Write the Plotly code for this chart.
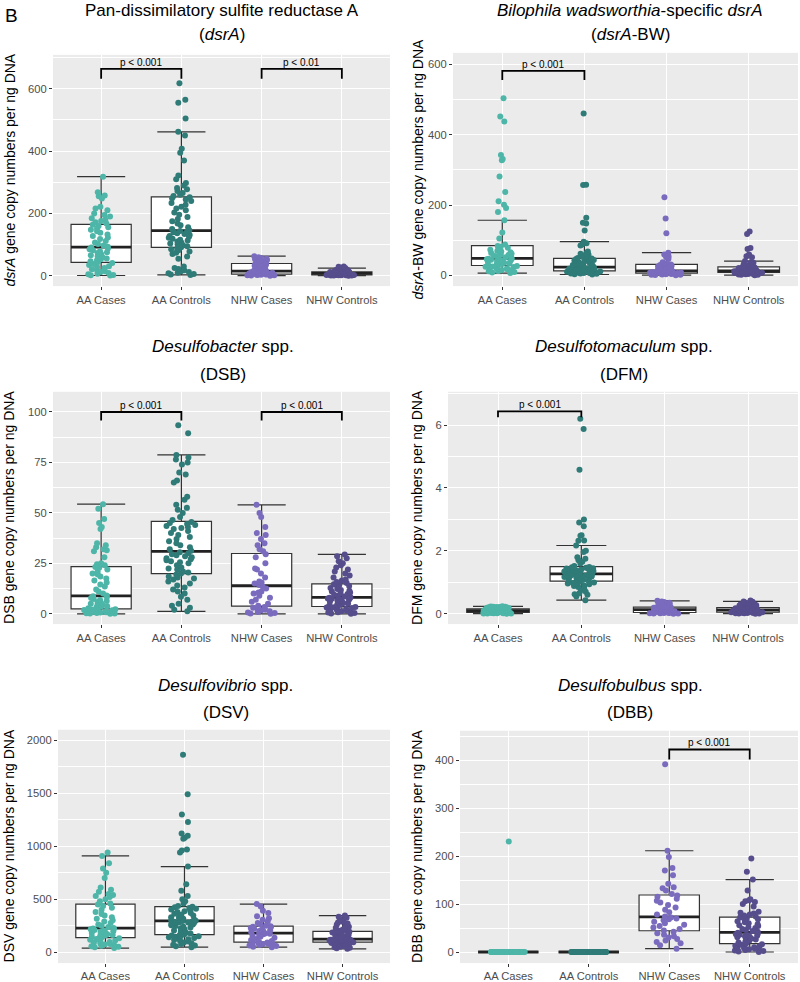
import numpy as np
import plotly.graph_objects as go

W, H = 800, 982
FONT = "Liberation Sans, Arial, sans-serif"

groups = ["AA Cases", "AA Controls", "NHW Cases", "NHW Controls"]
colors = ["#4DB6A8", "#2F7B78", "#7A6BBE", "#564D8C"]

# ---------------- dsrA ----------------
dsrA_aa_cases = [1, 2, 3, 5, 7, 9, 12, 15, 18, 21, 25, 28, 31, 35, 38, 41,
                 44, 47, 50, 53, 56, 60, 63, 66, 70, 73, 76, 79, 82, 85, 88, 91,
                 93, 97, 102, 107, 112, 118, 123, 128, 133, 138, 143, 148, 152, 156, 160, 164,
                 168, 172, 176, 180, 185, 190, 195, 200, 210, 216, 222, 248, 255, 258, 268, 318]
dsrA_aa_controls = [3, 4, 6, 8, 10, 12, 15, 18, 22, 25, 30, 55, 62, 70, 74, 78, 82, 85, 88,
                    92, 95, 98, 101, 104, 107, 110, 113, 116, 119, 122, 125, 128, 131, 134, 137, 140, 142, 144,
                    146, 150, 156, 162, 168, 175, 182, 189, 196, 203, 210, 216, 222, 228, 234, 240, 245, 249, 252,
                    256, 260, 266, 272, 278, 282, 290, 298, 310, 322, 370, 395, 408, 450, 462, 505, 555, 565, 618]
dsrA_nhw_cases = [0.5, 1, 1.5, 2, 2.5, 3, 3.5, 4, 4.3, 4.6, 4.9,
                  5.5, 6.5, 7.5, 8.5, 9.5, 10.5, 11.5, 12.5, 13, 14, 14.5,
                  15.5, 17, 19, 21, 23, 26, 29, 32, 35, 37, 39,
                  41, 43, 45, 47, 49, 51, 53, 55, 57, 60, 63]
dsrA_nhw_controls = [0.5, 0.8, 1, 1.2, 1.5, 1.7, 2, 2.2, 2.4, 2.6, 2.7, 2.8, 2.9, 3, 3, 3,
                     3.3, 3.6, 4, 4.4, 4.8, 5.2, 5.6, 6, 6.3, 6.6, 6.9, 7.2, 7.4, 7.6, 7.8, 7.9,
                     8.1, 8.4, 8.8, 9.2, 9.6, 10, 10.4, 10.8, 11.2, 11.5, 11.8, 12.1, 12.4, 12.6, 12.8, 12.9,
                     13.2, 13.8, 14.5, 15.2, 16, 17, 18, 19, 20, 21, 22, 23, 24, 25, 29, 30]

# ---------------- dsrA-BW ----------------
bw_aa_cases = [7, 9, 10, 12, 13, 15, 16, 18, 19, 20, 21, 23, 24, 25, 26, 27,
               29, 30, 32, 33, 35, 36, 38, 39, 40, 42, 43, 44, 45, 46, 47, 48,
               50, 52, 54, 56, 58, 60, 62, 64, 66, 68, 70, 73, 76, 79, 82, 84,
               88, 105, 122, 157, 180, 192, 201, 211, 237, 281, 327, 331, 342, 437, 451, 503]
bw_aa_controls = [3, 4, 5, 5.5, 6, 6.5, 7, 7.5, 8, 8.5, 9, 9.5, 10, 10.5, 11, 11.5, 12, 12.5, 13,
                  13.5, 14, 14.5, 15, 15.5, 16, 16.5, 17, 17.5, 18, 19, 19.5, 20, 20.5, 21, 22, 22.5, 23, 23.5,
                  24.5, 26, 27, 28, 29, 30, 31, 32, 33, 35, 36, 38, 40, 41, 43, 44, 46, 47, 48.5,
                  50, 52, 55, 58, 60, 62, 65, 68, 85, 88, 92, 96, 128, 148, 150, 164, 257, 258, 460]
bw_nhw_cases = [1, 1.5, 2, 2.5, 3, 3.5, 4, 4.5, 5, 5.5, 6,
                7, 7.5, 8, 8.5, 9, 9.5, 10, 10.5, 11, 12, 12.5,
                13.5, 14.5, 16, 18, 20, 22, 24, 26, 28, 30, 31.5,
                33, 35, 38, 48, 52, 55, 60, 65, 120, 162, 222]
bw_nhw_controls = [1, 2, 2.5, 3, 3.5, 4, 4.5, 5, 5.5, 6, 6.5, 7, 7.3, 7.6, 7.9, 8.2,
                   8.8, 9.1, 9.4, 9.7, 10, 10.3, 10.6, 10.9, 11.2, 11.5, 11.8, 12.1, 12.3, 12.5, 12.7, 12.9,
                   13.1, 13.8, 14.5, 15.2, 16, 16.8, 17.6, 18.4, 19.2, 20, 20.8, 21.6, 22.4, 23.2, 24, 24.6,
                   25.4, 27, 29, 31, 33, 36, 38, 41, 52, 55, 57, 60, 75, 78, 118, 125]

# ---------------- DSB ----------------
dsb_aa_cases = [0, 0.1, 0.2, 0.3, 0.4, 0.5, 0.6, 0.8, 1, 1.1, 1.3, 1.5, 1.7, 1.9, 2.1, 2.2,
                2.5, 2.8, 3.1, 3.5, 3.8, 4.2, 4.6, 5, 5.4, 5.8, 6.3, 6.8, 7.3, 7.8, 8.3, 8.7,
                9.1, 10, 11, 12, 13.5, 14.5, 15.5, 16.5, 17.5, 18.5, 19.5, 20, 21, 22, 22.8, 23.2,
                24, 24.5, 25, 28, 31, 31.5, 32, 33, 34, 35, 42, 43, 45, 47, 52, 54.3]
dsb_aa_controls = [1.2, 2, 3, 4, 5, 7, 8.5, 10, 11, 12, 13, 14, 15, 16, 17, 17.5, 18, 18.5, 19.5,
                   20, 20.5, 21, 22, 22.5, 23, 24, 25, 25.5, 26, 26.5, 27, 27.5, 28, 28.5, 29, 29.5, 30, 30.5,
                   31.3, 32, 33, 34, 35, 36, 37, 38, 39, 40, 41, 42, 42.5, 43, 43.5, 44, 44.5, 45, 45.5,
                   46.5, 48, 50, 51.5, 52.5, 54, 56.5, 58, 65, 66, 69, 70, 74, 75, 76.5, 77.5, 78.7, 89.5, 93.4]
dsb_nhw_cases = [0, 0.2, 0.4, 0.6, 0.9, 1.2, 1.6, 2, 2.5, 3, 3.4,
                 4, 5, 6, 7, 8, 9, 10, 10.5, 11, 12.5, 13.5,
                 14.3, 15, 15.5, 16, 18, 20, 22, 22.5, 25, 28, 29.5,
                 31, 32, 34, 35, 37, 39, 40, 43, 48, 50, 54]
dsb_nhw_controls = [0, 0.2, 0.4, 0.6, 0.8, 1, 1.3, 1.6, 1.9, 2.2, 2.5, 2.7, 2.9, 3.1, 3.3, 3.4,
                    3.7, 4, 4.4, 4.8, 5.1, 5.4, 5.7, 6, 6.3, 6.6, 6.9, 7.2, 7.4, 7.6, 7.8, 8,
                    8.3, 8.6, 9, 9.4, 9.8, 10.2, 10.6, 11, 11.4, 11.8, 12.3, 12.8, 13.3, 13.8, 14.3, 14.7,
                    15.2, 15.8, 16.5, 17, 18, 19, 20, 21, 22, 23, 24, 25, 26, 27.5, 28.5, 29.4]

# ---------------- DFM ----------------
dfm_aa_cases = [0.002, 0.005, 0.008, 0.01, 0.012, 0.014, 0.016, 0.018, 0.02, 0.022, 0.024, 0.026, 0.028, 0.03, 0.032, 0.034,
                0.04, 0.045, 0.05, 0.055, 0.06, 0.064, 0.068, 0.072, 0.076, 0.08, 0.083, 0.086, 0.089, 0.091, 0.093, 0.094,
                0.097, 0.1, 0.104, 0.108, 0.112, 0.116, 0.12, 0.124, 0.128, 0.132, 0.136, 0.14, 0.144, 0.148, 0.152, 0.155,
                0.16, 0.165, 0.17, 0.175, 0.18, 0.185, 0.19, 0.195, 0.2, 0.205, 0.21, 0.215, 0.22, 0.225, 0.23, 0.235]
dfm_aa_controls = [0.43, 0.55, 0.6, 0.62, 0.65, 0.7, 0.75, 0.8, 0.85, 0.88, 0.9, 0.92, 0.94, 0.96, 0.98, 0.99, 1.0, 1.01, 1.02,
                   1.04, 1.06, 1.08, 1.1, 1.11, 1.12, 1.13, 1.14, 1.15, 1.16, 1.17, 1.18, 1.19, 1.2, 1.21, 1.22, 1.23, 1.24, 1.26,
                   1.28, 1.3, 1.31, 1.32, 1.33, 1.34, 1.35, 1.36, 1.37, 1.38, 1.39, 1.4, 1.41, 1.42, 1.44, 1.45, 1.46, 1.48, 1.49,
                   1.52, 1.6, 1.65, 1.7, 1.75, 1.8, 1.96, 2.0, 2.17, 2.32, 2.33, 2.48, 2.5, 2.78, 2.9, 3.0, 4.58, 5.88, 6.2]
dfm_nhw_cases = [0.0, 0.005, 0.01, 0.013, 0.016, 0.019, 0.022, 0.025, 0.028, 0.03, 0.033,
                 0.04, 0.05, 0.06, 0.07, 0.08, 0.09, 0.1, 0.11, 0.115, 0.12, 0.125,
                 0.135, 0.14, 0.15, 0.16, 0.165, 0.17, 0.18, 0.19, 0.195, 0.2, 0.205,
                 0.215, 0.23, 0.25, 0.27, 0.29, 0.31, 0.33, 0.35, 0.37, 0.39, 0.41]
dfm_nhw_controls = [0.0, 0.005, 0.01, 0.014, 0.018, 0.022, 0.026, 0.03, 0.033, 0.036, 0.039, 0.042, 0.044, 0.046, 0.048, 0.049,
                    0.053, 0.058, 0.063, 0.068, 0.073, 0.078, 0.083, 0.088, 0.093, 0.098, 0.102, 0.106, 0.11, 0.113, 0.116, 0.119,
                    0.121, 0.125, 0.13, 0.135, 0.14, 0.145, 0.15, 0.155, 0.16, 0.165, 0.17, 0.175, 0.18, 0.185, 0.19, 0.195,
                    0.205, 0.22, 0.235, 0.25, 0.26, 0.27, 0.28, 0.29, 0.3, 0.31, 0.32, 0.34, 0.36, 0.38, 0.39, 0.42]

# ---------------- DSV ----------------
dsv_aa_cases = [38, 45, 50, 55, 60, 66, 72, 78, 85, 90, 96, 102, 110, 118, 125, 131,
                138, 145, 150, 156, 162, 168, 174, 180, 186, 192, 198, 204, 210, 216, 220, 224,
                228, 238, 250, 262, 275, 290, 300, 315, 330, 345, 360, 380, 400, 420, 435, 450,
                460, 480, 500, 520, 530, 540, 550, 570, 590, 610, 700, 750, 790, 840, 909, 940]
dsv_aa_controls = [47, 55, 62, 70, 78, 85, 92, 100, 108, 115, 122, 128, 134, 140, 146, 150, 155, 158, 161,
                   166, 175, 185, 195, 205, 215, 225, 232, 240, 248, 255, 262, 268, 274, 279, 283, 287, 290, 293,
                   296, 302, 308, 315, 322, 330, 338, 346, 354, 362, 370, 378, 386, 394, 402, 410, 417, 423, 428,
                   435, 460, 480, 500, 530, 580, 640, 808, 940, 960, 970, 1070, 1080, 1100, 1120, 1230, 1300, 1490, 1864]
dsv_nhw_cases = [47, 52, 57, 62, 67, 72, 76, 80, 84, 87, 90,
                 95, 105, 115, 125, 135, 145, 155, 162, 168, 173, 177,
                 182, 188, 194, 200, 207, 214, 221, 228, 235, 240, 245,
                 250, 262, 275, 290, 305, 320, 340, 370, 390, 430, 454]
dsv_nhw_controls = [31, 36, 41, 46, 51, 56, 60, 64, 68, 72, 76, 80, 84, 87, 90, 93,
                    96, 98, 100, 102, 104, 106, 108, 110, 112, 114, 115, 116, 117, 118, 119, 120,
                    124, 130, 136, 142, 148, 154, 160, 166, 172, 178, 182, 186, 189, 192, 194, 196,
                    199, 205, 212, 220, 230, 240, 250, 260, 270, 280, 290, 300, 310, 325, 335, 345]

# ---------------- DBB ----------------
dbb_aa_cases = [0, 0, 0, 0, 0, 0, 0, 0, 0, 0, 0, 0, 0, 0, 0, 0,
                0, 0, 0, 0, 0, 0, 0, 0, 0, 0, 0, 0, 0, 0, 0, 0,
                0, 0, 0, 0, 0, 0, 0, 0, 0, 0, 0, 0, 0, 0, 0, 0,
                0, 0, 0, 0, 0, 0, 0, 0, 0, 0, 0, 0, 0, 0, 0, 230]
dbb_aa_controls = [0, 0, 0, 0, 0, 0, 0, 0, 0, 0, 0, 0, 0, 0, 0, 0, 0, 0, 0,
                   0, 0, 0, 0, 0, 0, 0, 0, 0, 0, 0, 0, 0, 0, 0, 0, 0, 0, 0,
                   0, 0, 0, 0, 0, 0, 0, 0, 0, 0, 0, 0, 0, 0, 0, 0, 0, 0, 0,
                   0, 0, 0, 0, 0, 0, 0, 0, 0, 0, 0, 0, 0, 0, 0, 0, 0, 0, 0]
dbb_nhw_cases = [7, 14, 18, 21, 24, 27, 30, 33, 36, 39, 42,
                 45, 48, 51, 54, 57, 60, 63, 66, 68, 70, 72,
                 74, 78, 83, 88, 93, 98, 103, 107, 111, 115, 118,
                 121, 128, 133, 135, 142, 160, 170, 175, 198, 211, 391]
dbb_nhw_controls = [0, 1, 2, 3, 4, 5, 6, 7, 8, 9, 10, 11, 12, 13, 15, 16,
                    18, 20, 22, 24, 26, 28, 30, 31, 32, 33, 34, 35, 36, 37, 38, 40,
                    42, 44, 46, 48, 50, 52, 54, 56, 58, 60, 62, 64, 66, 68, 70, 72,
                    74, 76, 78, 80, 82, 84, 95, 100, 104, 106, 108, 110, 128, 151, 167, 195]

# panel definitions: data, y range, ticks, pixel box (left, right, top, bottom), titles, brackets
panels = [
    dict(data=[dsrA_aa_cases, dsrA_aa_controls, dsrA_nhw_cases, dsrA_nhw_controls],
         yr=[-33, 709], dt=200, mdt=100, px=(53, 390, 55, 287),
         t1="Pan-dissimilatory sulfite reductase A", t2="(<i>dsrA</i>)", tx=222, ty=(10.5, 35),
         yt="<i>dsrA</i> gene copy numbers per ng DNA", ytx=10,
         br=[(0, 1, 632, 664, "p < 0.001"), (2, 3, 632, 664, "p < 0.01")]),
    dict(data=[bw_aa_cases, bw_aa_controls, bw_nhw_cases, bw_nhw_controls],
         yr=[-30, 632], dt=200, mdt=100, px=(453, 798, 53, 287),
         t1="<i>Bilophila wadsworthia</i>-specific <i>dsrA</i>", t2="(<i>dsrA</i>-BW)", tx=630, ty=(10.5, 35),
         yt="<i>dsrA</i>-BW gene copy numbers per ng DNA", ytx=418,
         br=[(0, 1, 555, 581, "p < 0.001")]),
    dict(data=[dsb_aa_cases, dsb_aa_controls, dsb_nhw_cases, dsb_nhw_controls],
         yr=[-5.1, 110], dt=25, mdt=12.5, px=(53, 390, 393, 626),
         t1="<i>Desulfobacter</i> spp.", t2="(DSB)", tx=223, ty=(348, 375.5),
         yt="DSB gene copy numbers per ng DNA", ytx=9,
         br=[(0, 1, 95.8, 100, "p < 0.001"), (2, 3, 95.8, 100, "p < 0.001")]),
    dict(data=[dfm_aa_cases, dfm_aa_controls, dfm_nhw_cases, dfm_nhw_controls],
         yr=[-0.33, 7.06], dt=2, mdt=1, px=(448, 798, 393, 626),
         t1="<i>Desulfotomaculum</i> spp.", t2="(DFM)", tx=624, ty=(348, 375.5),
         yt="DFM gene copy numbers per ng DNA", ytx=417,
         br=[(0, 1, 6.25, 6.44, "p < 0.001")]),
    dict(data=[dsv_aa_cases, dsv_aa_controls, dsv_nhw_cases, dsv_nhw_controls],
         yr=[-103, 2100], dt=500, mdt=250, px=(58, 390, 732, 966),
         t1="<i>Desulfovibrio</i> spp.", t2="(DSV)", tx=226, ty=(688, 715),
         yt="DSV gene copy numbers per ng DNA", ytx=9,
         br=[]),
    dict(data=[dbb_aa_cases, dbb_aa_controls, dbb_nhw_cases, dbb_nhw_controls],
         yr=[-23, 461], dt=100, mdt=50, px=(460, 798, 733, 966),
         t1="<i>Desulfobulbus</i> spp.", t2="(DBB)", tx=630, ty=(688, 715),
         yt="DBB gene copy numbers per ng DNA", ytx=417,
         br=[(2, 3, 401, 422, "p < 0.001")]),
]

fig = go.Figure()
annotations = []
shapes = []
layout = {}


def box_stats(v):
    a = np.asarray(v, dtype=float)
    q1, med, q3 = np.percentile(a, [25, 50, 75])
    iqr = q3 - q1
    up = a[a <= q3 + 1.5 * iqr].max()
    lo = a[a >= q1 - 1.5 * iqr].min()
    return q1, med, q3, lo, up


for i, p in enumerate(panels):
    k = "" if i == 0 else str(i + 1)
    xa, ya = "x" + k, "y" + k
    left, right, top, bottom = p["px"]
    for g, vals, col in zip(groups, p["data"], colors):
        q1, med, q3, lo, up = box_stats(vals)
        fig.add_trace(go.Box(x=[g], q1=[q1], median=[med], q3=[q3], lowerfence=[lo], upperfence=[up],
                             width=0.75, whiskerwidth=0.8, fillcolor="white", boxpoints=False,
                             line=dict(color="#333333", width=1.2), xaxis=xa, yaxis=ya,
                             hoverinfo="skip", showlegend=False))
        fig.add_trace(go.Box(x=[g], q1=[med], median=[med], q3=[med], lowerfence=[med], upperfence=[med],
                             width=0.75, whiskerwidth=0, fillcolor="rgba(0,0,0,0)", boxpoints=False,
                             line=dict(color="#222222", width=2.8), xaxis=xa, yaxis=ya,
                             hoverinfo="skip", showlegend=False))
        fig.add_trace(go.Box(x=[g] * len(vals), y=vals, boxpoints="all", jitter=0.58, pointpos=0,
                             width=0.75, whiskerwidth=0, fillcolor="rgba(0,0,0,0)",
                             line=dict(color="rgba(0,0,0,0)", width=0),
                             marker=dict(color=col, size=6, line=dict(width=0)),
                             xaxis=xa, yaxis=ya, hoverinfo="skip", showlegend=False))

    layout["xaxis" + k] = dict(
        domain=[left / W, right / W], anchor=ya, type="category",
        categoryorder="array", categoryarray=groups, range=[-0.6, 3.6],
        showgrid=True, gridcolor="white", gridwidth=1.1, zeroline=False,
        ticks="outside", ticklen=3, tickcolor="#333333", tickwidth=1,
        tickfont=dict(size=11.2, color="#4D4D4D", family=FONT), showline=False)
    layout["yaxis" + k] = dict(
        domain=[1 - bottom / H, 1 - top / H], anchor=xa, range=p["yr"], dtick=p["dt"], tick0=0,
        showgrid=True, gridcolor="white", gridwidth=1.1, zeroline=False,
        minor=dict(dtick=p["mdt"], tick0=0, showgrid=True, gridcolor="white", gridwidth=0.5, ticks=""),
        ticks="outside", ticklen=3, tickcolor="#333333", tickwidth=1,
        tickfont=dict(size=11.2, color="#4D4D4D", family=FONT), showline=False)

    # titles
    annotations.append(dict(x=p["tx"] / W, y=1 - p["ty"][0] / H, xref="paper", yref="paper",
                            text=p["t1"], showarrow=False, xanchor="center", yanchor="middle",
                            font=dict(size=17, color="black", family=FONT)))
    annotations.append(dict(x=p["tx"] / W, y=1 - p["ty"][1] / H, xref="paper", yref="paper",
                            text=p["t2"], showarrow=False, xanchor="center", yanchor="middle",
                            font=dict(size=17, color="black", family=FONT)))
    # y title
    annotations.append(dict(x=p["ytx"] / W, y=1 - ((top + bottom) / 2) / H, xref="paper", yref="paper",
                            text=p["yt"], showarrow=False, textangle=-90, xanchor="center", yanchor="middle",
                            font=dict(size=14, color="black", family=FONT)))
    # brackets
    for (a, b, ylo, yhi, txt) in p["br"]:
        shapes.append(dict(type="path", xref=xa, yref=ya,
                           path=f"M {a},{ylo} L {a},{yhi} L {b},{yhi} L {b},{ylo}",
                           line=dict(color="black", width=1.8)))
        annotations.append(dict(x=(a + b) / 2, y=yhi, xref=xa, yref=ya, text=txt, showarrow=False,
                                xanchor="center", yanchor="bottom", yshift=-1,
                                font=dict(size=10, color="black", family=FONT)))

annotations.append(dict(x=3 / W, y=1 - 3 / H, xref="paper", yref="paper", text="B", showarrow=False,
                        xanchor="left", yanchor="top", font=dict(size=19, color="black", family=FONT)))

fig.update_layout(width=W, height=H, margin=dict(l=0, r=0, t=0, b=0),
                  paper_bgcolor="white", plot_bgcolor="#EBEBEB", boxmode="overlay",
                  showlegend=False, annotations=annotations, shapes=shapes,
                  font=dict(family=FONT), **layout)

fig.write_html("out.html", config={"displayModeBar": False},
               post_script="document.body.style.margin='0px';")
